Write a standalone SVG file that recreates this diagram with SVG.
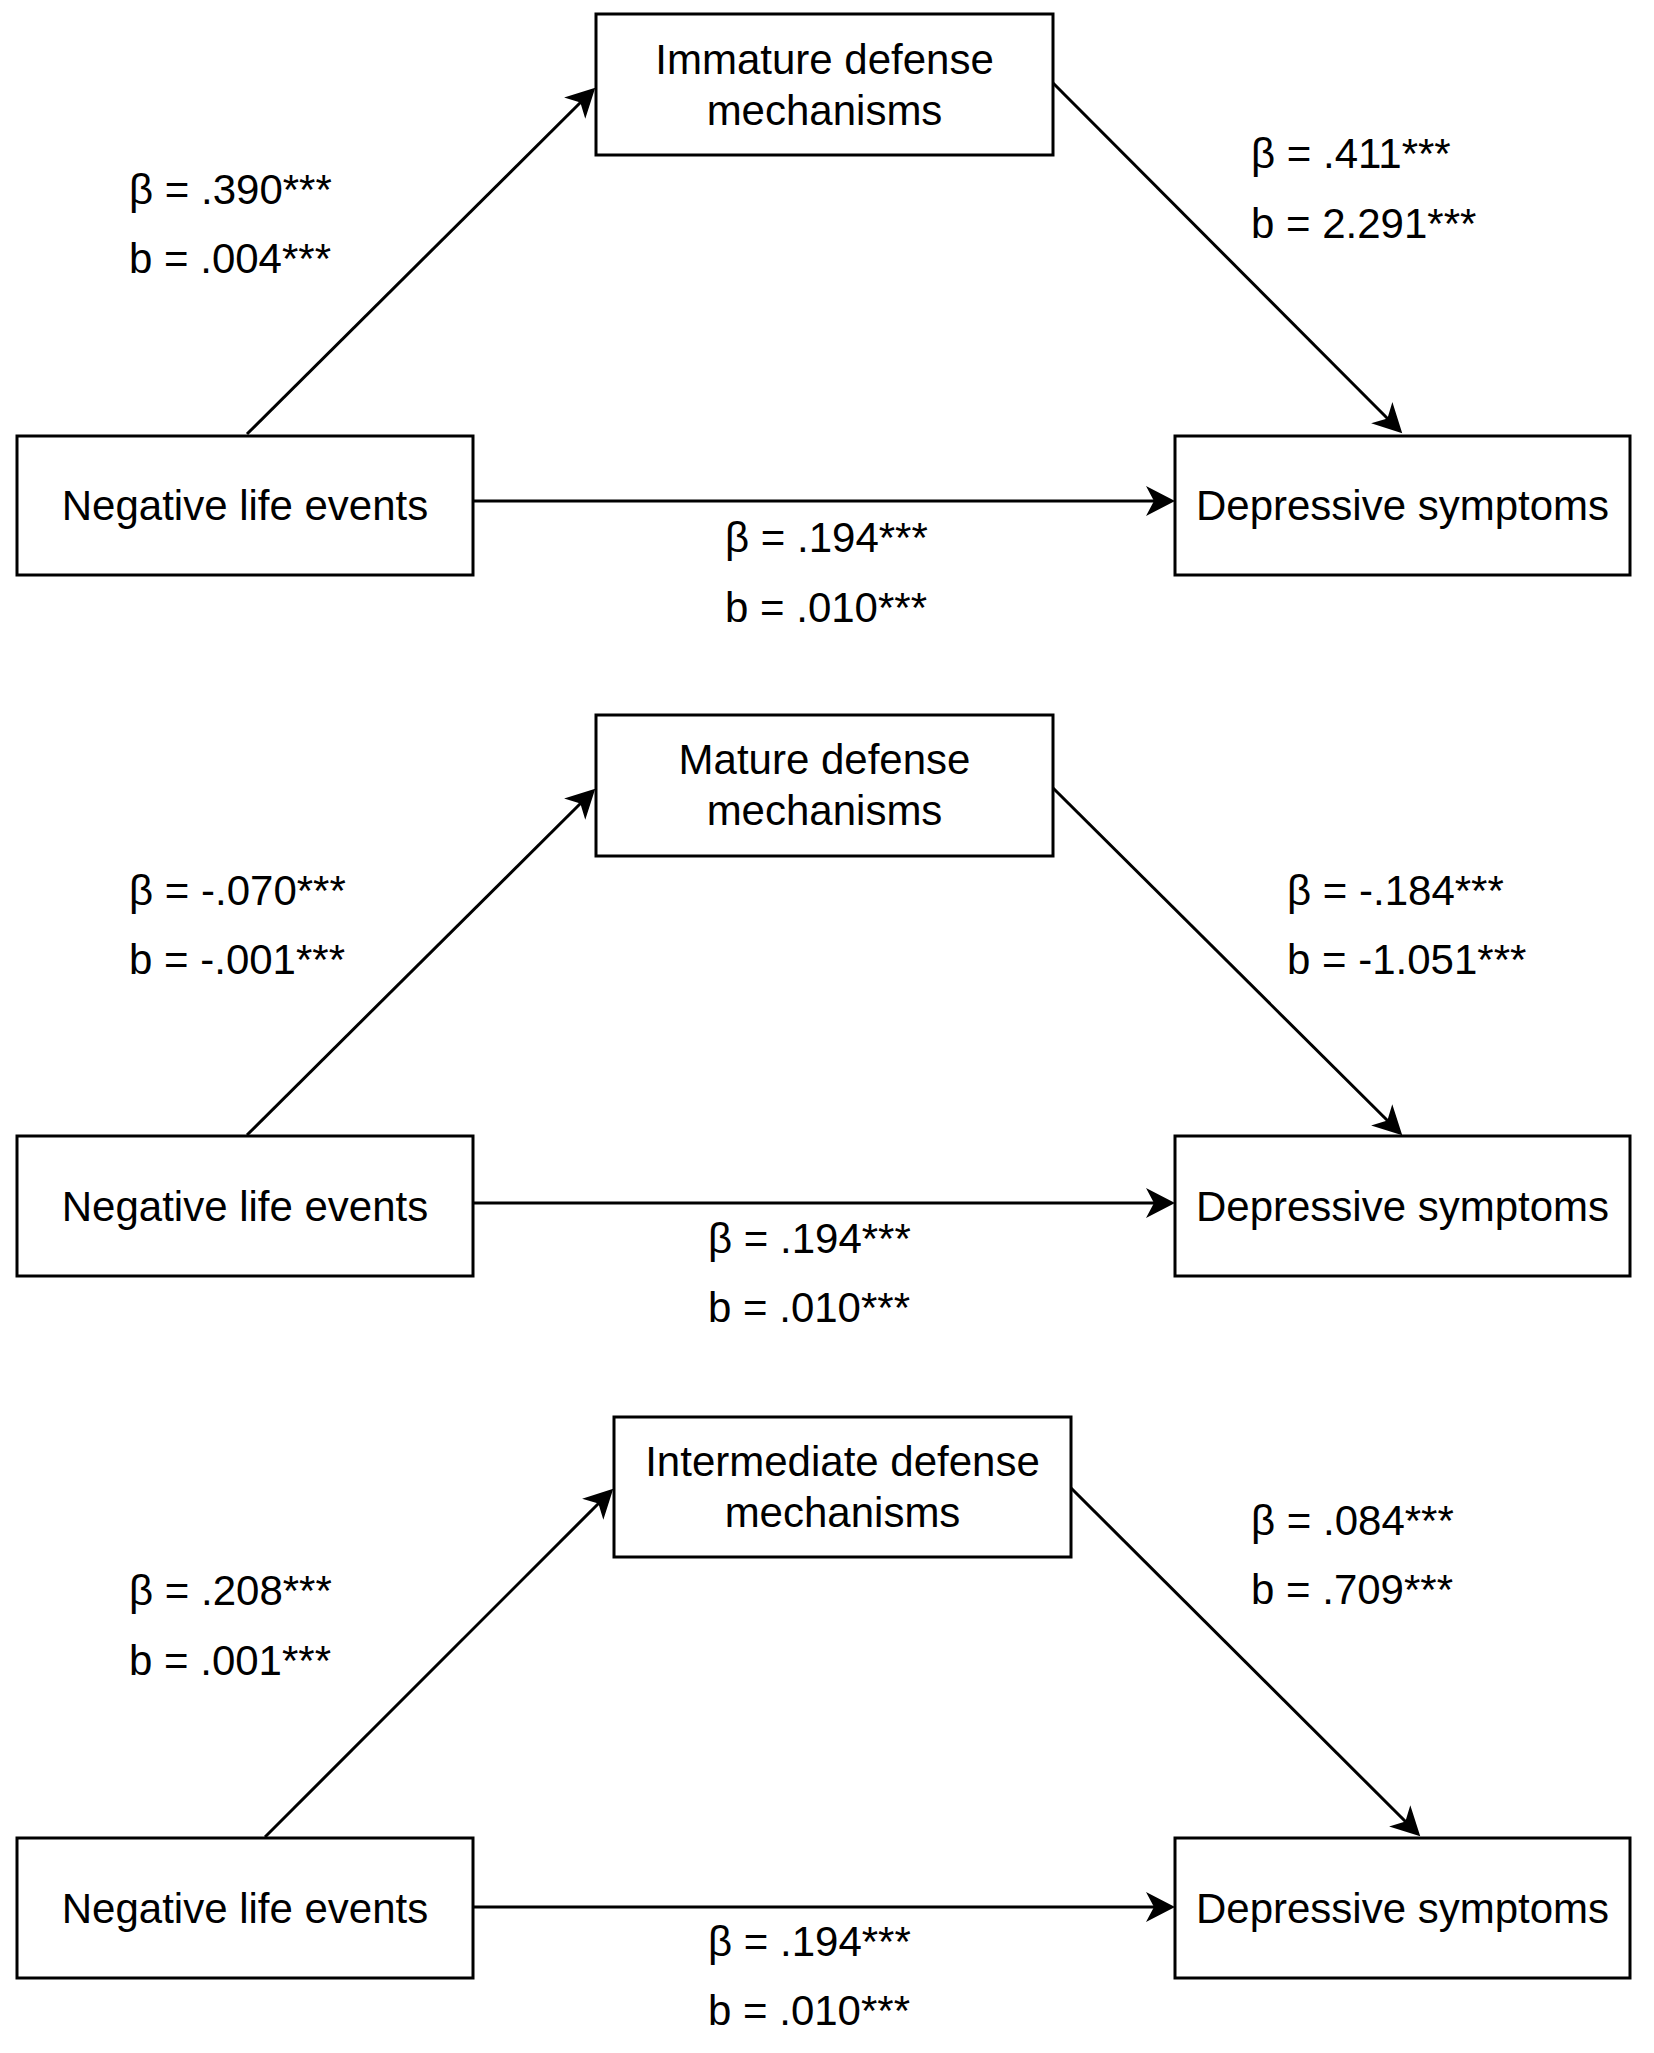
<svg xmlns="http://www.w3.org/2000/svg" width="1654" height="2053" viewBox="0 0 1654 2053">
<style>
.box{fill:#fff;stroke:#000;stroke-width:3}
.t{font-family:"Liberation Sans",Arial,sans-serif;font-size:42px;fill:#000;dominant-baseline:central}
.c{text-anchor:middle}
.e{stroke:#000;stroke-width:3;fill:none;marker-end:url(#arr)}
</style>
<defs>
<marker id="arr" markerUnits="userSpaceOnUse" markerWidth="34" markerHeight="34" refX="23" refY="15" orient="auto">
<path d="M0,0 L29,15 L0,30 L8,15 Z" fill="#000"/>
</marker>
</defs>
<rect width="1654" height="2053" fill="#fff"/>
<g id="connectors">
<line class="e" x1="247" y1="434" x2="591" y2="92"/>
<line class="e" x1="1053" y1="83" x2="1398" y2="429"/>
<line class="e" x1="473" y1="501" x2="1169" y2="501"/>
<line class="e" x1="247" y1="1135" x2="591" y2="793"/>
<line class="e" x1="1053" y1="788" x2="1398" y2="1131"/>
<line class="e" x1="473" y1="1203" x2="1169" y2="1203"/>
<line class="e" x1="265" y1="1837" x2="609" y2="1493"/>
<line class="e" x1="1071" y1="1488" x2="1416" y2="1832"/>
<line class="e" x1="473" y1="1907" x2="1169" y2="1907"/>
</g>
<g id="n1-immature"><rect class="box" x="596" y="14" width="457" height="141"/>
<text class="t c" x="824.5" y="59">Immature defense</text><text class="t c" x="824.5" y="110">mechanisms</text></g>
<g id="n1-negative"><rect class="box" x="17" y="436" width="456" height="139"/>
<text class="t c" x="245" y="505">Negative life events</text></g>
<g id="n1-depressive"><rect class="box" x="1175" y="436" width="455" height="139"/>
<text class="t c" x="1402.5" y="505">Depressive symptoms</text></g>
<g id="n2-mature"><rect class="box" x="596" y="715" width="457" height="141"/>
<text class="t c" x="824.5" y="759">Mature defense</text><text class="t c" x="824.5" y="810">mechanisms</text></g>
<g id="n2-negative"><rect class="box" x="17" y="1136" width="456" height="140"/>
<text class="t c" x="245" y="1206">Negative life events</text></g>
<g id="n2-depressive"><rect class="box" x="1175" y="1136" width="455" height="140"/>
<text class="t c" x="1402.5" y="1206">Depressive symptoms</text></g>
<g id="n3-intermediate"><rect class="box" x="614" y="1417" width="457" height="140"/>
<text class="t c" x="842.5" y="1461">Intermediate defense</text><text class="t c" x="842.5" y="1512">mechanisms</text></g>
<g id="n3-negative"><rect class="box" x="17" y="1838" width="456" height="140"/>
<text class="t c" x="245" y="1908">Negative life events</text></g>
<g id="n3-depressive"><rect class="box" x="1175" y="1838" width="455" height="140"/>
<text class="t c" x="1402.5" y="1908">Depressive symptoms</text></g>
<g id="labels">
<text class="t" x="129" y="189">β = .390***</text>
<text class="t" x="129" y="258">b = .004***</text>
<text class="t" x="1251" y="153">β = .411***</text>
<text class="t" x="1251" y="223">b = 2.291***</text>
<text class="t" x="725" y="537">β = .194***</text>
<text class="t" x="725" y="607">b = .010***</text>
<text class="t" x="129" y="890">β = -.070***</text>
<text class="t" x="129" y="959">b = -.001***</text>
<text class="t" x="1287" y="890">β = -.184***</text>
<text class="t" x="1287" y="959">b = -1.051***</text>
<text class="t" x="708" y="1238">β = .194***</text>
<text class="t" x="708" y="1307">b = .010***</text>
<text class="t" x="129" y="1590">β = .208***</text>
<text class="t" x="129" y="1660">b = .001***</text>
<text class="t" x="1251" y="1520">β = .084***</text>
<text class="t" x="1251" y="1589">b = .709***</text>
<text class="t" x="708" y="1941">β = .194***</text>
<text class="t" x="708" y="2010">b = .010***</text>
</g>
</svg>
